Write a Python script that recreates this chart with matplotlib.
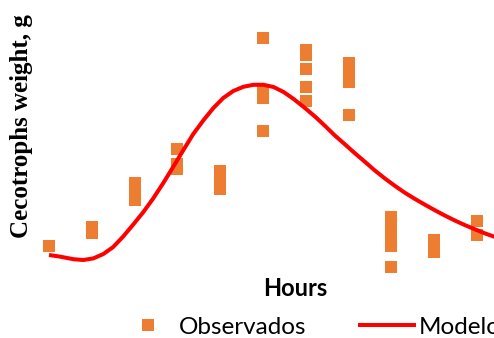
import matplotlib
matplotlib.use('Agg')
import matplotlib.pyplot as plt
from matplotlib.lines import Line2D

# Observaciones (horas, peso de cecotrofos en g)
horas_obs = [0, 2, 2, 4, 4, 4, 6, 6, 6, 8, 8, 8,
             10, 10, 10, 10, 12, 12, 12, 12, 12,
             14, 14, 14, 14, 16, 16, 16, 16, 16,
             18, 18, 20, 20]
peso_obs = [1.70, 2.65, 2.35, 4.85, 4.45, 4.00, 6.55, 5.80, 5.55, 5.45, 4.95, 4.55,
            12.10, 9.50, 9.10, 7.45, 11.50, 11.25, 10.55, 9.65, 8.95,
            10.85, 10.40, 9.90, 8.25, 3.15, 2.70, 2.20, 1.70, 0.65,
            2.00, 1.40, 2.95, 2.25]

# Curva del modelo
horas_mod = [0.0, 0.51, 1.14, 1.60, 2.07, 2.54, 3.00, 3.47, 3.94, 4.41, 4.87,
             5.34, 5.81, 6.28, 6.74, 7.21, 7.68, 8.14, 8.61, 9.08, 9.55,
             10.02, 10.49, 10.96, 11.43, 11.90, 12.43, 12.90, 13.36, 13.83,
             14.30, 14.77, 15.23, 15.70, 16.17, 16.63, 17.10, 17.57, 18.04,
             18.50, 18.97, 19.44, 19.91, 20.37, 20.84]
peso_mod = [1.25, 1.17, 1.04, 1.00, 1.08, 1.30, 1.65, 2.18, 2.78, 3.40, 4.08,
            4.85, 5.67, 6.50, 7.30, 7.98, 8.60, 9.10, 9.45, 9.66, 9.76,
            9.76, 9.65, 9.40, 9.05, 8.65, 8.17, 7.70, 7.22, 6.78,
            6.33, 5.90, 5.47, 5.07, 4.70, 4.36, 4.05, 3.76, 3.48,
            3.22, 2.97, 2.74, 2.53, 2.33, 2.15]

NARANJA = '#ED7D31'
ROJO = '#FF0000'

fig = plt.figure(figsize=(4.94, 3.38), dpi=100)
ax = fig.add_axes([40 / 494, 63 / 338, 454 / 494, 275 / 338])
ax.plot(horas_obs, peso_obs, 's', color=NARANJA, ms=8.6, mew=0, zorder=2)
ax.plot(horas_mod, peso_mod, '-', color=ROJO, lw=2.9, zorder=3,
        solid_joinstyle='round', solid_capstyle='butt')
ax.set_xlim(-0.42, 20.79)
ax.set_ylim(0.25, 14.0)
ax.axis('off')

fig.text(22 / 494, 1 - 126 / 338, 'Cecotrophs weight, g', rotation=90,
         ha='center', va='center', family='Liberation Serif', weight='bold', fontsize=18)
fig.text(295 / 494, 1 - 289 / 338, 'Hours', ha='center', va='center',
         family='Lato', weight='bold', fontsize=17)

manejadores = [
    Line2D([], [], ls='none', marker='s', color=NARANJA, ms=8.6, mew=0),
    Line2D([], [], ls='-', color=ROJO, lw=2.9),
]
fig.legend(manejadores, ['Observados', 'Modelo'], loc='center left',
           bbox_to_anchor=(121 / 494, 1 - 327 / 338), ncol=2, frameon=False,
           prop={'family': 'Lato', 'size': 17.5}, handlelength=2.2,
           handletextpad=0.2, columnspacing=2.2, borderpad=0, borderaxespad=0)

fig.savefig('out.png', dpi=100)
